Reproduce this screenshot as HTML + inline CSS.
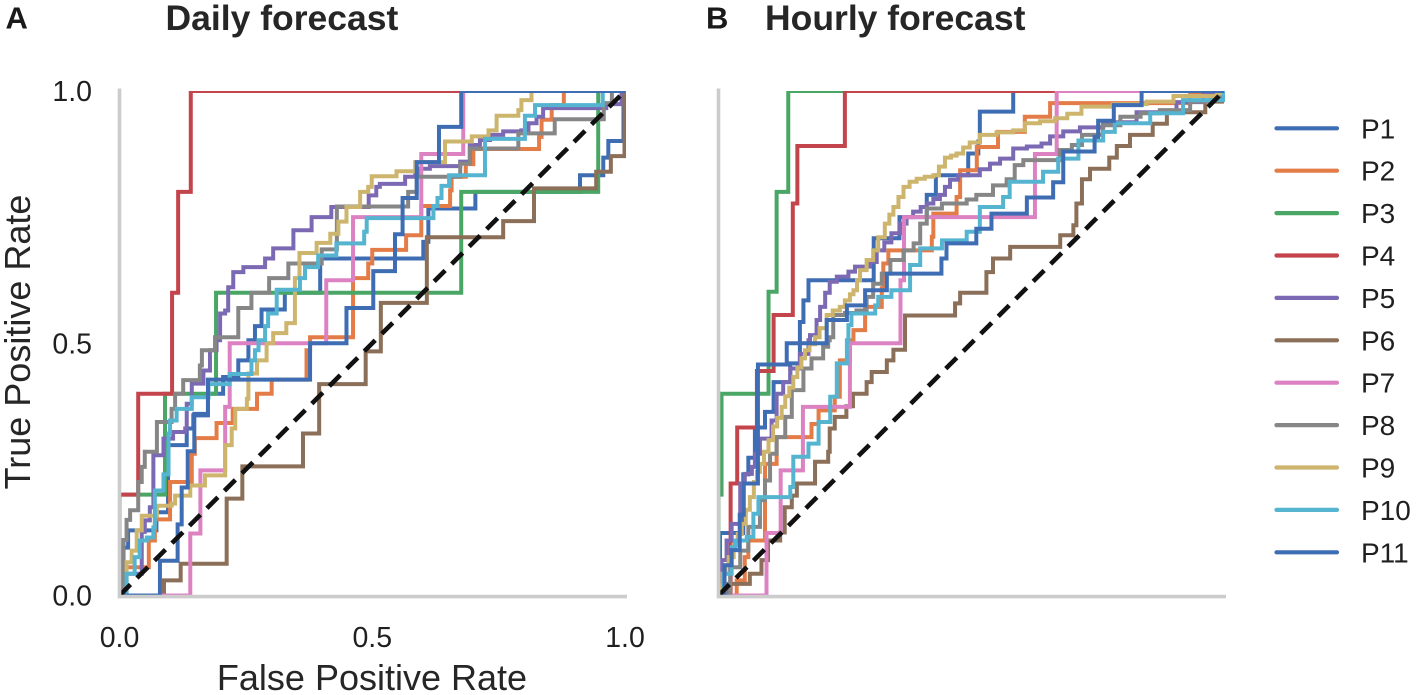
<!DOCTYPE html>
<html lang="en">
<head>
<meta charset="utf-8">
<title>Daily and hourly forecast ROC curves</title>
<style>
html,body{margin:0;padding:0;background:#fff;width:1417px;height:695px;overflow:hidden}
svg{display:block;font-family:"Liberation Sans",Arial,sans-serif}
</style>
</head>
<body>
<svg id="chart" xmlns="http://www.w3.org/2000/svg" width="1417" height="695" viewBox="0 0 1417 695">
<defs>
<clipPath id="clip-daily"><rect x="119.5" y="91" width="506.5" height="504.5"/></clipPath>
<clipPath id="clip-hourly"><rect x="718.5" y="91" width="506.5" height="504.5"/></clipPath>
</defs>
<rect width="1417" height="695" fill="#fff"/>
<g id="plots"></g>
<text x="5.5" y="28.5" font-size="31" font-weight="700" fill="#1a1a1a">A</text>
<text x="165.5" y="30" font-size="35.5" font-weight="700" fill="#262626">Daily forecast</text>
<text x="706" y="28.5" font-size="31" font-weight="700" fill="#1a1a1a">B</text>
<text x="765" y="30" font-size="35.5" font-weight="700" fill="#262626">Hourly forecast</text>
<text x="372" y="690" font-size="36" fill="#262626" text-anchor="middle">False Positive Rate</text>
<text transform="translate(30,342) rotate(-90)" font-size="36" fill="#262626" text-anchor="middle">True Positive Rate</text>
<g id="legend"></g>
</svg>
<script>
const categories = ["P1","P2","P3","P4","P5","P6","P7","P8","P9","P10","P11"];
const seriesColors = ["#3f6db3","#e47c48","#4aa665","#c4444c","#7c69b3","#8b6f58","#dc82c2","#868686","#cdb56e","#55b4d0","#3f6db3"];
const tickValues = [0, 0.5, 1];
const tickLabels = ["0.0","0.5","1.0"];

const dailyP1Fpr = [0.008,0.017,0.073,0.096,0.133,0.146,0.175,0.205,0.235,0.255,0.268,0.281,0.327,0.397,0.601,0.611,0.704,0.911,0.957,0.967,0.997,1];
const dailyP1Tpr = [0.095,0.129,0.165,0.298,0.331,0.357,0.4,0.433,0.466,0.506,0.534,0.567,0.6,0.668,0.701,0.767,0.8,0.833,0.868,0.901,1,1];
const dailyP2Fpr = [0.011,0.058,0.07,0.1,0.143,0.149,0.192,0.224,0.272,0.301,0.37,0.377,0.462,0.492,0.5,0.567,0.597,0.654,0.657,0.685,0.7,0.83,0.835,0.855,0.879,1];
const dailyP2Tpr = [0.056,0.109,0.151,0.225,0.281,0.312,0.342,0.37,0.4,0.428,0.486,0.512,0.629,0.658,0.685,0.714,0.772,0.803,0.83,0.855,0.885,0.909,0.943,0.972,1,1];
const dailyP3Fpr = [0,0.09,0.191,0.676,0.947,1];
const dailyP3Tpr = [0.2,0.4,0.6,0.8,1,1];
const dailyP4Fpr = [0,0.037,0.104,0.116,0.141,1];
const dailyP4Tpr = [0.2,0.4,0.6,0.8,1,1];
const dailyP5Fpr = [0.011,0.044,0.05,0.06,0.067,0.087,0.106,0.13,0.133,0.143,0.166,0.179,0.192,0.199,0.209,0.215,0.225,0.245,0.284,0.288,0.304,0.337,0.344,0.377,0.38,0.416,0.419,0.488,0.493,0.508,0.515,0.561,0.565,0.585,0.591,0.614,0.674,0.693,0.713,0.733,0.759,0.795,0.809,0.825,0.838,0.864,0.963,0.993,1];
const dailyP5Tpr = [0.043,0.126,0.149,0.175,0.278,0.311,0.324,0.331,0.38,0.42,0.446,0.486,0.506,0.559,0.565,0.611,0.641,0.651,0.651,0.668,0.688,0.688,0.724,0.724,0.75,0.75,0.77,0.77,0.793,0.81,0.816,0.816,0.83,0.833,0.846,0.851,0.86,0.893,0.903,0.913,0.92,0.922,0.936,0.949,0.966,0.966,0.974,0.992,1];
const dailyP6Fpr = [0.088,0.121,0.212,0.243,0.363,0.395,0.487,0.517,0.608,0.759,0.82,0.943,0.972,0.999,1];
const dailyP6Tpr = [0.03,0.063,0.192,0.256,0.321,0.419,0.484,0.58,0.71,0.742,0.807,0.84,0.871,1,1];
const dailyP7Fpr = [0.14,0.16,0.209,0.218,0.409,0.462,0.597,0.68,1];
const dailyP7Tpr = [0.123,0.248,0.374,0.5,0.625,0.75,0.875,1,1];
const dailyP8Fpr = [0.008,0.014,0.021,0.037,0.044,0.05,0.074,0.103,0.11,0.126,0.159,0.163,0.189,0.235,0.261,0.296,0.334,0.4,0.43,0.571,0.588,0.674,0.693,0.789,0.861,0.958,0.974,1];
const dailyP8Tpr = [0.11,0.15,0.169,0.225,0.255,0.285,0.344,0.37,0.4,0.427,0.456,0.486,0.512,0.57,0.6,0.629,0.658,0.686,0.771,0.8,0.83,0.856,0.886,0.916,0.944,0.976,1,1];
const dailyP9Fpr = [0.014,0.024,0.034,0.044,0.074,0.103,0.11,0.14,0.169,0.209,0.222,0.229,0.252,0.255,0.272,0.291,0.304,0.33,0.347,0.356,0.39,0.417,0.433,0.449,0.476,0.492,0.499,0.548,0.585,0.644,0.697,0.73,0.746,0.789,0.795,0.815,1];
const dailyP9Tpr = [0.066,0.089,0.129,0.158,0.178,0.182,0.198,0.218,0.238,0.298,0.331,0.37,0.39,0.44,0.466,0.5,0.52,0.54,0.629,0.679,0.699,0.717,0.741,0.77,0.8,0.81,0.831,0.841,0.859,0.9,0.91,0.922,0.951,0.962,0.982,1,1];
const dailyP10Fpr = [0.014,0.03,0.04,0.054,0.067,0.07,0.087,0.097,0.1,0.113,0.143,0.176,0.218,0.261,0.268,0.275,0.288,0.294,0.311,0.357,0.367,0.393,0.429,0.484,0.489,0.515,0.621,0.629,0.637,0.652,0.723,0.802,0.822,0.956,1];
const dailyP10Tpr = [0.043,0.076,0.109,0.115,0.135,0.208,0.24,0.321,0.347,0.37,0.393,0.419,0.439,0.466,0.486,0.506,0.534,0.559,0.606,0.629,0.651,0.674,0.698,0.721,0.748,0.748,0.772,0.788,0.812,0.833,0.905,0.951,0.972,1,1];
const dailyP11Fpr = [0.08,0.115,0.123,0.135,0.148,0.175,0.377,0.449,0.502,0.545,0.56,0.588,0.632,0.676,1];
const dailyP11Tpr = [0.069,0.141,0.214,0.286,0.36,0.428,0.5,0.57,0.643,0.716,0.788,0.859,0.929,1,1];

const hourlyP1Fpr = [0.003,0.049,0.059,0.072,0.092,0.109,0.142,0.161,0.168,0.178,0.307,0.358,0.412,0.43,0.494,0.514,0.517,0.583,1];
const hourlyP1Tpr = [0.124,0.24,0.273,0.333,0.364,0.423,0.46,0.542,0.585,0.625,0.708,0.75,0.794,0.833,0.876,0.9,0.959,1,1];
const hourlyP2Fpr = [0.036,0.052,0.059,0.092,0.115,0.184,0.198,0.23,0.24,0.26,0.267,0.29,0.323,0.326,0.336,0.422,0.425,0.471,0.478,0.511,0.553,0.606,0.656,0.933,1];
const hourlyP2Tpr = [0.03,0.076,0.109,0.261,0.314,0.34,0.367,0.394,0.466,0.506,0.526,0.572,0.609,0.658,0.684,0.711,0.757,0.79,0.843,0.889,0.919,0.949,0.976,0.994,1];
const hourlyP3Fpr = [0,0.006,0.099,0.115,0.138,1];
const hourlyP3Tpr = [0.2,0.4,0.602,0.8,1,1];
const hourlyP4Fpr = [0.024,0.037,0.076,0.109,0.147,0.156,0.25,1];
const hourlyP4Tpr = [0.222,0.333,0.445,0.556,0.777,0.891,1,1];
const hourlyP5Fpr = [0.006,0.016,0.026,0.043,0.052,0.066,0.072,0.082,0.105,0.115,0.128,0.142,0.161,0.178,0.181,0.194,0.201,0.211,0.22,0.234,0.257,0.27,0.3,0.313,0.328,0.342,0.359,0.372,0.385,0.4,0.412,0.425,0.438,0.448,0.458,0.474,0.497,0.517,0.537,0.557,0.583,0.61,0.639,0.656,0.682,0.715,0.761,0.827,0.906,0.959,1];
const hourlyP5Tpr = [0.07,0.109,0.142,0.222,0.241,0.255,0.281,0.311,0.347,0.4,0.423,0.45,0.479,0.506,0.516,0.546,0.572,0.6,0.622,0.632,0.642,0.652,0.661,0.684,0.7,0.718,0.737,0.75,0.761,0.77,0.777,0.786,0.794,0.81,0.824,0.833,0.833,0.845,0.856,0.866,0.886,0.89,0.896,0.91,0.92,0.928,0.938,0.958,0.978,0.992,1];
const hourlyP6Fpr = [0.02,0.062,0.085,0.098,0.122,0.131,0.145,0.155,0.191,0.217,0.22,0.23,0.253,0.266,0.293,0.303,0.333,0.346,0.369,0.468,0.478,0.53,0.543,0.577,0.676,0.702,0.708,0.719,0.735,0.773,0.788,0.814,0.859,0.887,0.963,0.996,1];
const hourlyP6Tpr = [0.023,0.043,0.07,0.109,0.125,0.175,0.198,0.222,0.265,0.285,0.331,0.354,0.375,0.4,0.423,0.443,0.466,0.487,0.555,0.579,0.6,0.641,0.668,0.691,0.714,0.734,0.777,0.825,0.846,0.868,0.891,0.913,0.935,0.958,0.979,1,1];
const hourlyP7Fpr = [0.095,0.123,0.167,0.26,0.36,0.367,0.626,0.669,1];
const hourlyP7Tpr = [0.124,0.248,0.374,0.5,0.625,0.75,0.875,1,1];
const hourlyP8Fpr = [0.023,0.043,0.059,0.082,0.092,0.102,0.115,0.132,0.145,0.168,0.184,0.207,0.217,0.22,0.227,0.25,0.273,0.293,0.306,0.323,0.34,0.366,0.386,0.399,0.412,0.442,0.491,0.51,0.543,0.57,0.586,0.603,0.675,0.699,0.719,0.76,0.795,0.835,0.873,0.933,0.973,1];
const hourlyP8Tpr = [0.056,0.089,0.136,0.189,0.228,0.281,0.314,0.354,0.407,0.45,0.47,0.493,0.506,0.512,0.556,0.56,0.565,0.592,0.618,0.638,0.665,0.684,0.698,0.737,0.767,0.777,0.785,0.794,0.813,0.825,0.853,0.863,0.883,0.893,0.913,0.932,0.949,0.956,0.962,0.979,0.989,1];
const hourlyP9Fpr = [0.003,0.008,0.014,0.02,0.03,0.038,0.046,0.054,0.062,0.07,0.076,0.082,0.09,0.099,0.108,0.116,0.125,0.132,0.14,0.148,0.156,0.164,0.171,0.18,0.191,0.2,0.214,0.226,0.24,0.25,0.26,0.267,0.274,0.28,0.293,0.306,0.316,0.329,0.338,0.346,0.356,0.366,0.378,0.392,0.408,0.425,0.436,0.448,0.46,0.471,0.484,0.497,0.517,0.55,0.583,0.606,0.636,0.666,0.69,0.718,0.78,0.847,0.9,0.986,1];
const hourlyP9Tpr = [0.02,0.043,0.06,0.076,0.1,0.122,0.142,0.17,0.195,0.225,0.245,0.261,0.285,0.308,0.335,0.352,0.374,0.395,0.412,0.433,0.452,0.47,0.486,0.498,0.512,0.53,0.556,0.565,0.572,0.585,0.597,0.605,0.625,0.645,0.665,0.684,0.71,0.737,0.755,0.77,0.79,0.81,0.82,0.826,0.83,0.833,0.85,0.868,0.872,0.876,0.888,0.898,0.913,0.918,0.922,0.936,0.94,0.946,0.955,0.969,0.974,0.979,0.99,0.995,1];
const hourlyP10Fpr = [0.01,0.026,0.033,0.056,0.069,0.079,0.142,0.148,0.178,0.198,0.221,0.234,0.254,0.257,0.263,0.31,0.316,0.342,0.379,0.399,0.442,0.491,0.517,0.563,0.576,0.642,0.672,0.712,0.761,0.784,0.854,0.919,1];
const hourlyP10Tpr = [0.043,0.096,0.109,0.116,0.162,0.195,0.215,0.275,0.301,0.344,0.394,0.46,0.506,0.536,0.559,0.575,0.592,0.605,0.655,0.688,0.704,0.721,0.77,0.79,0.82,0.84,0.866,0.902,0.919,0.936,0.956,0.982,1];
const hourlyP11Fpr = [0.012,0.026,0.042,0.05,0.078,0.135,0.214,0.254,0.29,0.333,0.441,0.451,0.51,0.54,0.61,0.662,0.682,0.744,0.751,0.782,0.837,1];
const hourlyP11Tpr = [0.06,0.09,0.16,0.222,0.458,0.5,0.546,0.575,0.605,0.638,0.668,0.698,0.727,0.757,0.789,0.819,0.88,0.909,0.941,0.972,1,1];

const dailyFpr = [dailyP1Fpr,dailyP2Fpr,dailyP3Fpr,dailyP4Fpr,dailyP5Fpr,dailyP6Fpr,dailyP7Fpr,dailyP8Fpr,dailyP9Fpr,dailyP10Fpr,dailyP11Fpr];
const dailyTpr = [dailyP1Tpr,dailyP2Tpr,dailyP3Tpr,dailyP4Tpr,dailyP5Tpr,dailyP6Tpr,dailyP7Tpr,dailyP8Tpr,dailyP9Tpr,dailyP10Tpr,dailyP11Tpr];
const hourlyFpr = [hourlyP1Fpr,hourlyP2Fpr,hourlyP3Fpr,hourlyP4Fpr,hourlyP5Fpr,hourlyP6Fpr,hourlyP7Fpr,hourlyP8Fpr,hourlyP9Fpr,hourlyP10Fpr,hourlyP11Fpr];
const hourlyTpr = [hourlyP1Tpr,hourlyP2Tpr,hourlyP3Tpr,hourlyP4Tpr,hourlyP5Tpr,hourlyP6Tpr,hourlyP7Tpr,hourlyP8Tpr,hourlyP9Tpr,hourlyP10Tpr,hourlyP11Tpr];

const NS = "http://www.w3.org/2000/svg";
const plots = document.getElementById("plots");
const legend = document.getElementById("legend");

function make(tag, parent, attrs) {
  const el = document.createElementNS(NS, tag);
  for (const k in attrs) el.setAttribute(k, attrs[k]);
  parent.appendChild(el);
  return el;
}

function drawPanel(key, x0, fprs, tprs, showX) {
  const xScale = v => x0 + v * 505.5;
  const yScale = v => 595.5 - v * 504.5;
  const panel = make("g", plots, {});
  
  
  const clipped = make("g", panel, {"clip-path": "url(#clip-" + key + ")"});
  
  
  categories.forEach((cat, i) => {
    let d = "M" + xScale(0).toFixed(2) + " " + yScale(0).toFixed(2);
    fprs[i].forEach((fp, j) => {
      d += "H" + xScale(fp).toFixed(2) + "V" + yScale(tprs[i][j]).toFixed(2);
    });
    const path = make("path", clipped, {d: d, fill: "none", stroke: seriesColors[i], "stroke-width": 4, "stroke-linejoin": "miter"});
    
    
  });
  const diag = make("line", clipped, {x1: xScale(0), y1: yScale(0), x2: xScale(1), y2: yScale(1), stroke: "#111", "stroke-width": 4.6, "stroke-dasharray": "15.5 9.2"});
  
  
  const left = make("line", panel, {x1: xScale(0), y1: 88.5, x2: xScale(0), y2: 598, stroke: "#cccccc", "stroke-width": 3.6});
  
  
  const bottom = make("line", panel, {x1: xScale(0) - 1.8, y1: 596.6, x2: xScale(1) + 2, y2: 596.6, stroke: "#cccccc", "stroke-width": 3.6});
  
  
  if (showX) {
    tickValues.forEach((v, i) => {
      const yTick = make("text", panel, {x: 92, y: yScale(v) + 10, "font-size": 28.5, fill: "#1f1f1f", "text-anchor": "end"});
      
      
      yTick.textContent = tickLabels[i];
      const xTick = make("text", panel, {x: xScale(v), y: 647, "font-size": 28.5, fill: "#1f1f1f", "text-anchor": "middle"});
      
      
      xTick.textContent = tickLabels[i];
    });
  }
}

drawPanel("daily", 119.5, dailyFpr, dailyTpr, true);
drawPanel("hourly", 718.5, hourlyFpr, hourlyTpr, false);

categories.forEach((cat, i) => {
  const y = 128.3 + i * 42.4;
  const entry = make("g", legend, {});
  
  
  const swatch = make("line", entry, {x1: 1276.5, y1: y, x2: 1337, y2: y, stroke: seriesColors[i], "stroke-width": 4.2, "stroke-linecap": "round"});
  
  
  const label = make("text", entry, {x: 1361, y: y + 10, "font-size": 28, fill: "#1f1f1f"});
  
  
  label.textContent = cat;
});
</script>
</body>
</html>
